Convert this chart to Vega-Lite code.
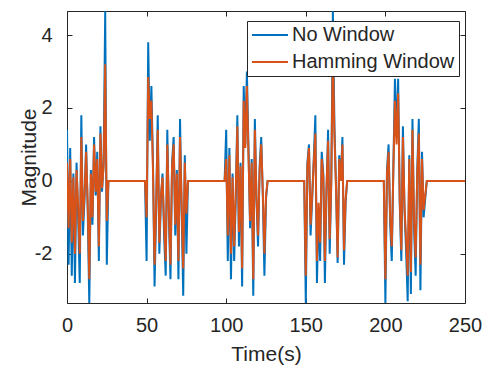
{
  "$schema": "https://vega.github.io/schema/vega-lite/v6.json",
  "width": 398,
  "height": 292,
  "autosize": {"type": "none"},
  "padding": {"left": 67, "top": 11, "right": 25, "bottom": 64},
  "background": "white",
  "config": {
    "font": "Liberation Sans",
    "view": {"stroke": "#262626", "strokeWidth": 1},
    "axis": {
      "grid": false,
      "domain": false,
      "tickColor": "#262626",
      "tickSize": -5,
      "tickWidth": 1,
      "labelFlush": false,
      "labelColor": "#262626",
      "labelFontSize": 20,
      "labelFont": "Liberation Sans",
      "titleColor": "#262626",
      "titleFontSize": 21,
      "titleFont": "Liberation Sans",
      "titleFontWeight": "normal"
    }
  },
  "data": {
    "values": [
      {"t":0,"a":1.4,"b":0.5},{"t":1,"a":-2.3,"b":-1.3},{"t":2,"a":0.9,"b":0.6},{"t":3,"a":-2.6,"b":-1.7},{"t":4,"a":0.2,"b":0.1},{"t":5,"a":-2.8,"b":-2.0},{"t":6,"a":0.5,"b":0.3},{"t":7,"a":-1.0,"b":-0.7},{"t":8,"a":-2.8,"b":-2.0},{"t":9,"a":1.8,"b":1.2},{"t":10,"a":-1.5,"b":-1.1},{"t":11,"a":-0.5,"b":-0.4},{"t":12,"a":1.0,"b":0.8},{"t":13,"a":-0.8,"b":-0.6},{"t":14,"a":-3.35,"b":-2.7},{"t":15,"a":0.3,"b":0.2},{"t":16,"a":-1.2,"b":-1.0},{"t":17,"a":1.2,"b":1.0},{"t":18,"a":-0.4,"b":-0.3},{"t":19,"a":0.8,"b":0.6},{"t":20,"a":-2.2,"b":-1.8},{"t":21,"a":1.5,"b":1.3},{"t":22,"a":-0.3,"b":-0.2},{"t":23,"a":0.5,"b":0.4},{"t":24,"a":4.65,"b":3.2},{"t":25,"a":-2.3,"b":-1.1},
      {"t":26,"a":0,"b":0},{"t":49,"a":0,"b":0},
      {"t":50,"a":-2.2,"b":-1.0},{"t":51,"a":3.8,"b":2.85},{"t":52,"a":1.1,"b":1.7},{"t":53,"a":2.6,"b":2.2},{"t":54,"a":0.5,"b":0.3},{"t":55,"a":-2.9,"b":-2.3},{"t":56,"a":-0.8,"b":-0.6},{"t":57,"a":1.8,"b":1.4},{"t":58,"a":-2.0,"b":-1.7},{"t":59,"a":-0.5,"b":-0.4},{"t":60,"a":0.2,"b":0.1},{"t":61,"a":-1.5,"b":-1.2},{"t":62,"a":-2.6,"b":-2.2},{"t":63,"a":1.4,"b":1.0},{"t":64,"a":-1.0,"b":-0.8},{"t":65,"a":-2.7,"b":-2.3},{"t":66,"a":0.5,"b":0.4},{"t":67,"a":1.2,"b":1.0},{"t":68,"a":-1.5,"b":-1.2},{"t":69,"a":0.3,"b":0.2},{"t":70,"a":-2.7,"b":-2.2},{"t":71,"a":1.7,"b":1.2},{"t":72,"a":-0.8,"b":-0.6},{"t":73,"a":-3.15,"b":-2.4},{"t":74,"a":0.7,"b":0.5},{"t":75,"a":-2.0,"b":-0.9},
      {"t":76,"a":0,"b":0},{"t":99,"a":0,"b":0},
      {"t":100,"a":1.4,"b":0.6},{"t":101,"a":-2.2,"b":-1.5},{"t":102,"a":0.9,"b":0.7},{"t":103,"a":-2.7,"b":-2.0},{"t":104,"a":0.2,"b":0.1},{"t":105,"a":-2.2,"b":-1.8},{"t":106,"a":-0.5,"b":-0.3},{"t":107,"a":1.8,"b":1.5},{"t":108,"a":-1.8,"b":-1.4},{"t":109,"a":0.5,"b":0.4},{"t":110,"a":-2.9,"b":-2.4},{"t":111,"a":2.6,"b":2.2},{"t":112,"a":1.0,"b":0.9},{"t":113,"a":3.0,"b":2.6},{"t":114,"a":0.9,"b":0.7},{"t":115,"a":-1.3,"b":-1.1},{"t":116,"a":0.6,"b":0.5},{"t":117,"a":-3.15,"b":-2.7},{"t":118,"a":1.7,"b":1.4},{"t":119,"a":-0.5,"b":-0.4},{"t":120,"a":-1.8,"b":-1.5},{"t":121,"a":0.4,"b":0.3},{"t":122,"a":1.2,"b":1.0},{"t":123,"a":-0.4,"b":-0.3},{"t":124,"a":-2.6,"b":-2.0},{"t":125,"a":-0.5,"b":-0.4},
      {"t":126,"a":0,"b":0},{"t":149,"a":0,"b":0},
      {"t":150,"a":-3.35,"b":-2.6},{"t":151,"a":0.5,"b":0.4},{"t":152,"a":1.0,"b":0.9},{"t":153,"a":-1.5,"b":-1.2},{"t":154,"a":-0.5,"b":-0.4},{"t":155,"a":0.6,"b":0.5},{"t":156,"a":1.8,"b":1.3},{"t":157,"a":-2.8,"b":-2.2},{"t":158,"a":-0.8,"b":-0.6},{"t":159,"a":-2.2,"b":-1.7},{"t":160,"a":0.8,"b":0.6},{"t":161,"a":0.2,"b":0.1},{"t":162,"a":-2.8,"b":-2.2},{"t":163,"a":-0.3,"b":-0.2},{"t":164,"a":1.4,"b":1.1},{"t":165,"a":-2.0,"b":-1.6},{"t":166,"a":0.0,"b":0.0},{"t":167,"a":4.65,"b":3.6},{"t":168,"a":1.5,"b":1.2},{"t":169,"a":-0.2,"b":-0.2},{"t":170,"a":-2.25,"b":-2.1},{"t":171,"a":0.7,"b":0.6},{"t":172,"a":0.0,"b":0.0},{"t":173,"a":1.2,"b":1.0},{"t":174,"a":-2.3,"b":-1.9},{"t":175,"a":-0.6,"b":-0.5},
      {"t":176,"a":0,"b":0},{"t":199,"a":0,"b":0},
      {"t":200,"a":-3.35,"b":-2.7},{"t":201,"a":0.3,"b":0.2},{"t":202,"a":1.0,"b":0.8},{"t":203,"a":-1.2,"b":-1.0},{"t":204,"a":-2.2,"b":-1.8},{"t":205,"a":0.4,"b":0.3},{"t":206,"a":2.8,"b":2.2},{"t":207,"a":1.2,"b":1.0},{"t":208,"a":2.8,"b":2.4},{"t":209,"a":-0.6,"b":-0.5},{"t":210,"a":-2.2,"b":-1.9},{"t":211,"a":1.5,"b":1.2},{"t":212,"a":-0.8,"b":-0.7},{"t":213,"a":-1.9,"b":-1.6},{"t":214,"a":-3.3,"b":-2.6},{"t":215,"a":0.7,"b":0.6},{"t":216,"a":-3.1,"b":-2.5},{"t":217,"a":1.7,"b":1.4},{"t":218,"a":-1.3,"b":-1.1},{"t":219,"a":-2.6,"b":-2.1},{"t":220,"a":0.3,"b":0.2},{"t":221,"a":1.7,"b":1.3},{"t":222,"a":-3.0,"b":-2.3},{"t":223,"a":0.8,"b":0.6},{"t":224,"a":-1.0,"b":-0.8},{"t":225,"a":-0.5,"b":-0.4},
      {"t":226,"a":0,"b":0},{"t":250,"a":0,"b":0}
    ]
  },
  "layer": [
    {
      "mark": {"type": "line", "strokeWidth": 2, "clip": true},
      "encoding": {
        "x": {"field": "t", "type": "quantitative", "scale": {"domain": [0, 250], "nice": false, "zero": false},
              "axis": {"orient": "bottom", "values": [0, 50, 100, 150, 200, 250], "title": "Time(s)", "labelPadding": 17, "titleY": 51, "titleBaseline": "middle"}},
        "y": {"field": "a", "type": "quantitative", "scale": {"domain": [-3.35, 4.66], "nice": false, "zero": false},
              "axis": {"orient": "left", "values": [-2, 0, 2, 4], "labelExpr": "datum.value + ''", "title": "Magnitude", "labelPadding": 20, "titleX": -38, "titleY": 146, "titleBaseline": "middle", "titleAngle": 270}},
        "color": {"datum": "No Window", "type": "nominal",
                  "scale": {"domain": ["No Window", "Hamming Window"], "range": ["#0072BD", "#D95319"]},
                  "legend": {"orient": "none", "legendX": 180, "legendY": 10, "title": null, "fillColor": "white", "strokeColor": "#262626",
                             "padding": 4, "symbolType": "M-2,0H2", "symbolSize": 324, "symbolStrokeWidth": 2, "symbolOffset": 9, "labelFontSize": 20,
                             "labelColor": "#262626", "labelFont": "Liberation Sans", "labelLimit": 0, "rowPadding": 7, "labelOffset": 12}}
      }
    },
    {
      "mark": {"type": "line", "strokeWidth": 2, "clip": true},
      "encoding": {
        "x": {"field": "t", "type": "quantitative",
              "axis": {"orient": "top", "values": [0, 50, 100, 150, 200, 250], "labels": false, "title": null}},
        "y": {"field": "b", "type": "quantitative",
              "axis": {"orient": "right", "values": [-2, 0, 2, 4], "labels": false, "title": null}},
        "color": {"datum": "Hamming Window", "type": "nominal"}
      }
    }
  ],
  "resolve": {"axis": {"x": "independent", "y": "independent"}}
}
